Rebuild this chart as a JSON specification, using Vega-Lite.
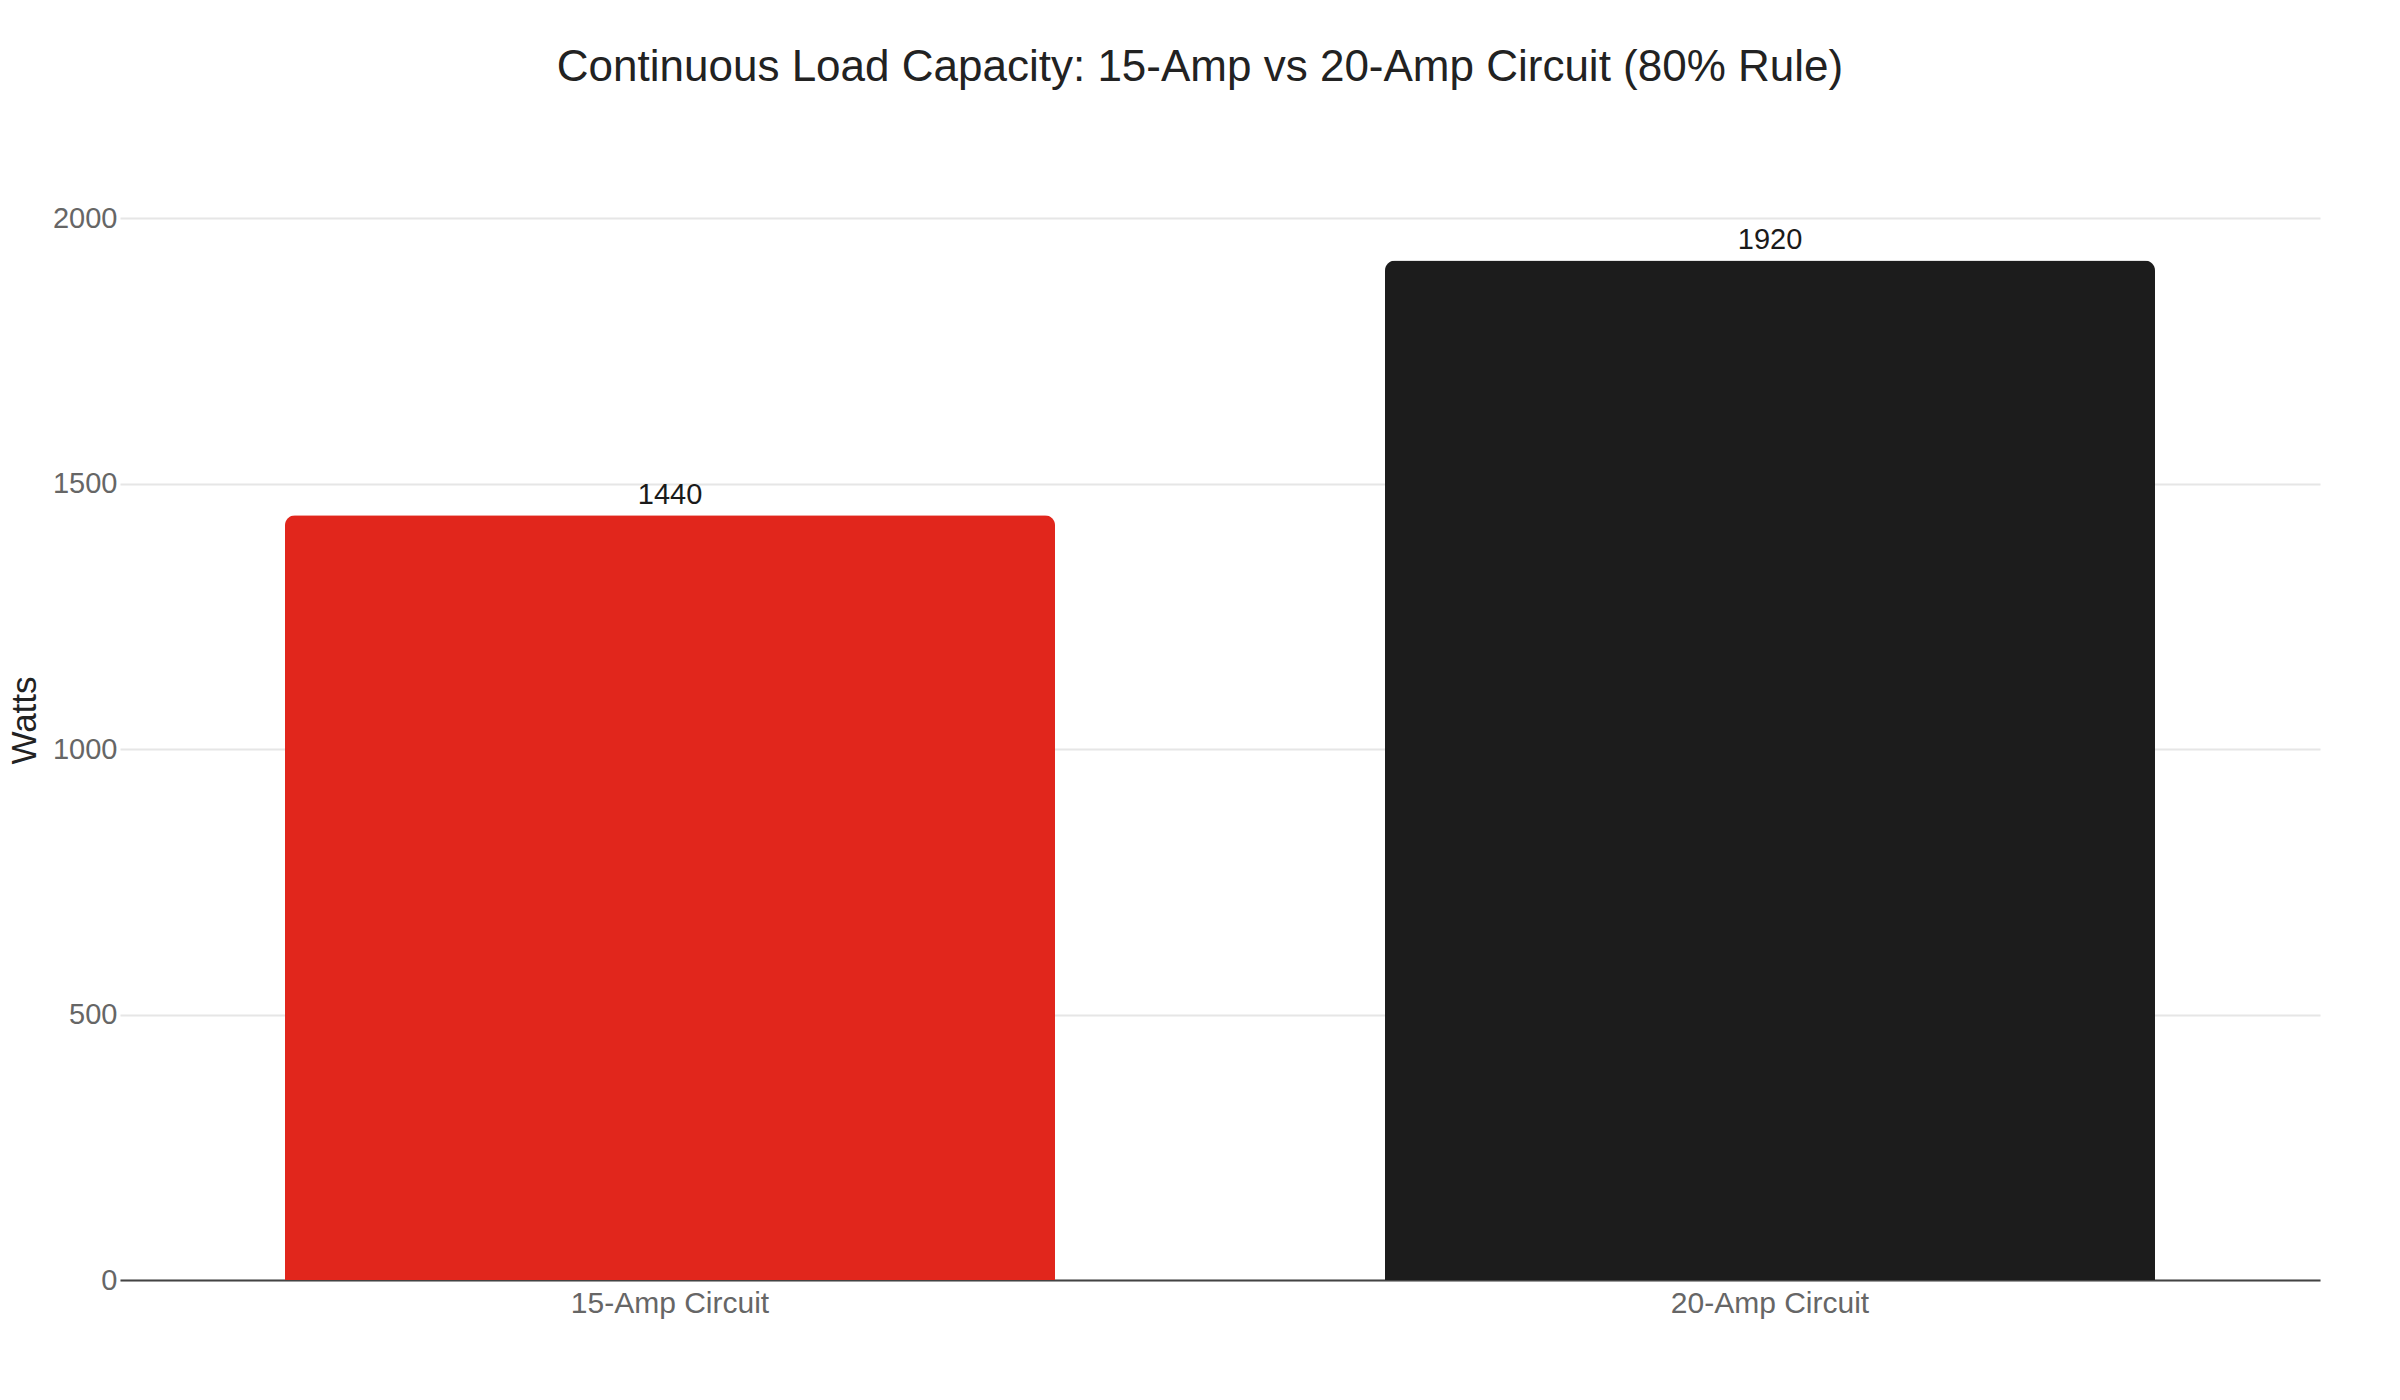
{
  "$schema": "https://vega.github.io/schema/vega-lite/v6.json",
  "width": 2200,
  "height": 1062,
  "autosize": {"type": "none"},
  "padding": {"left": 120, "top": 218, "right": 80, "bottom": 120},
  "background": "white",
  "title": {
    "text": "Continuous Load Capacity: 15-Amp vs 20-Amp Circuit (80% Rule)",
    "fontSize": 44,
    "font": "Liberation Sans",
    "fontWeight": "normal",
    "color": "#222222",
    "anchor": "middle",
    "baseline": "alphabetic",
    "offset": 79,
    "dx": -20
  },
  "data": {
    "values": [
      {"circuit": "15-Amp Circuit", "watts": 1440},
      {"circuit": "20-Amp Circuit", "watts": 1920}
    ]
  },
  "encoding": {
    "x": {
      "field": "circuit",
      "type": "nominal",
      "sort": null,
      "scale": {"paddingInner": 0.3, "paddingOuter": 0.15},
      "axis": {
        "title": null,
        "labelAngle": 0,
        "labelFontSize": 30,
        "labelColor": "#666666",
        "labelFont": "Liberation Sans",
        "labelBaseline": "alphabetic",
        "labelPadding": 32,
        "labelLimit": 0,
        "ticks": false,
        "tickSize": 0,
        "domainColor": "#444444",
        "domainWidth": 2,
        "grid": false
      }
    },
    "y": {
      "field": "watts",
      "type": "quantitative",
      "scale": {"domain": [0, 2000], "nice": false},
      "axis": {
        "title": "Watts",
        "titleFontSize": 35,
        "titleFont": "Liberation Sans",
        "titleFontWeight": "normal",
        "titleColor": "#222222",
        "titleX": -85,
        "titleY": 502,
        "titleAngle": -90,
        "titleBaseline": "alphabetic",
        "titleAlign": "center",
        "values": [0, 500, 1000, 1500, 2000],
        "format": "d",
        "labelFontSize": 29,
        "labelColor": "#666666",
        "labelFont": "Liberation Sans",
        "labelPadding": 3,
        "labelBaseline": "middle",
        "ticks": false,
        "tickSize": 0,
        "domain": false,
        "gridColor": "#e6e6e6",
        "gridWidth": 2
      }
    }
  },
  "layer": [
    {
      "mark": {"type": "bar", "cornerRadiusTopLeft": 10, "cornerRadiusTopRight": 10},
      "encoding": {
        "color": {
          "field": "circuit",
          "type": "nominal",
          "scale": {"domain": ["15-Amp Circuit", "20-Amp Circuit"], "range": ["#E1261C", "#1C1C1C"]},
          "legend": null
        }
      }
    },
    {
      "mark": {"type": "text", "baseline": "alphabetic", "dy": -11, "fontSize": 29, "font": "Liberation Sans", "color": "#1a1a1a"},
      "encoding": {
        "text": {"field": "watts", "type": "quantitative", "format": "d"}
      }
    }
  ],
  "config": {"view": {"stroke": null}}
}
